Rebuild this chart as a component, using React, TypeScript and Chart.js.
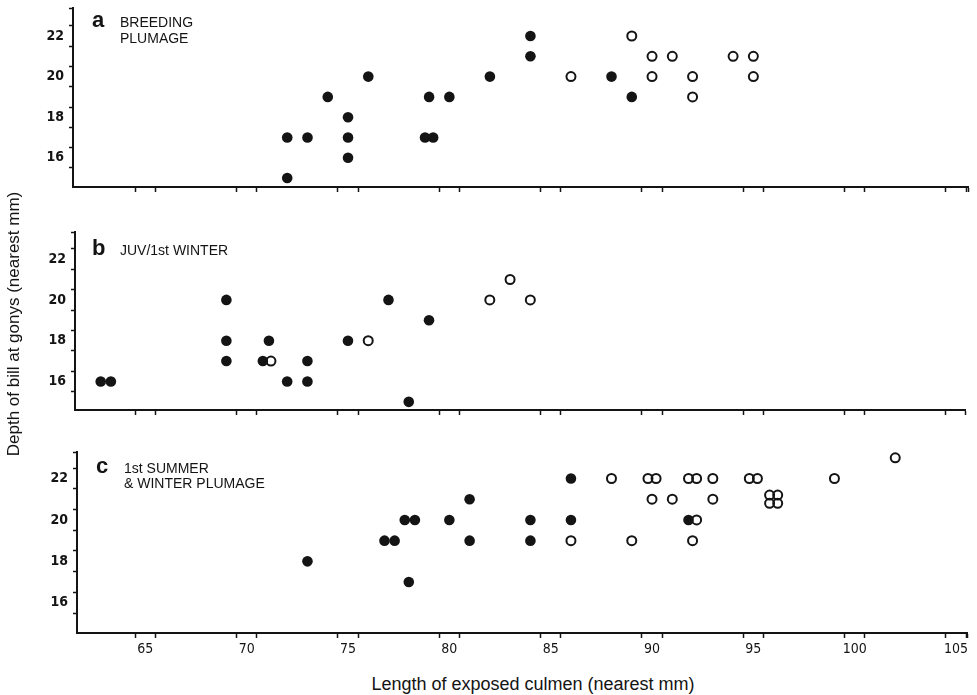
import React, { useEffect, useRef } from 'react';
import { Chart, registerables } from 'chart.js';

Chart.register(...registerables);

// ---------- data ----------
// Panel a: breeding plumage
const aFilledX = [72, 72, 73, 74, 75, 75, 75, 76, 78.8, 79.2, 79, 80, 82, 84, 84, 88, 89];
const aFilledY = [17, 15, 17, 19, 18, 17, 16, 20, 17, 17, 19, 19, 20, 22, 21, 20, 19];
const aOpenX = [86, 89, 90, 90, 91, 92, 92, 94, 95, 95];
const aOpenY = [20, 22, 21, 20, 21, 20, 19, 21, 21, 20];

// Panel b: juv / 1st winter
const bFilledX = [62.8, 63.3, 69, 69, 69, 70.8, 71.1, 72, 73, 73, 75, 77, 78, 79];
const bFilledY = [16, 16, 20, 18, 17, 17, 18, 16, 17, 16, 18, 20, 15, 19];
const bOpenX = [71.2, 76, 82, 83, 84];
const bOpenY = [17, 18, 20, 21, 20];

// Panel c: 1st summer & winter plumage
const cFilledX = [73, 76.8, 77.3, 77.8, 78.3, 78, 80, 81, 81, 84, 84, 86, 86, 91.8];
const cFilledY = [18, 19, 19, 20, 20, 17, 20, 21, 19, 20, 19, 22, 20, 20];
const cOpenX = [86, 88, 89, 89.8, 90.2, 90, 91, 91.8, 92.2, 92, 92.2, 93, 93, 94.8, 95.2, 95.8, 96.2, 95.8, 96.2, 99, 102];
const cOpenY = [19, 22, 19, 22, 22, 21, 21, 22, 22, 19, 20, 22, 21, 22, 22, 21.2, 21.2, 20.8, 20.8, 22, 23];

// tick labels
const xTickLabels = [65, 70, 75, 80, 85, 90, 95, 100, 105];
const yTickLabels = [16, 18, 20, 22];

const xTitle = 'Length of exposed culmen (nearest mm)';
const yTitle = 'Depth of bill at gonys (nearest mm)';

// ---------- styling ----------
const INK = '#141414';
const SANS = "'Liberation Sans', Arial, Helvetica, sans-serif";
const NARROW = "'Liberation Sans Narrow', 'DejaVu Sans Condensed', 'Liberation Sans', Arial, sans-serif";

function buildTicks(labels: number[], min: number, max: number) {
  const vals: number[] = [];
  labels.forEach((v) => vals.push(v - 0.5, v, v + 0.5));
  vals.push(max);
  return vals
    .filter((v) => v >= min && v <= max)
    .sort((a, b) => a - b)
    .map((v) => ({ value: v }));
}

const panelTextPlugin = {
  id: 'panelText',
  afterDraw(chart: any, _args: any, opts: any) {
    const ctx = chart.ctx;
    ctx.save();
    ctx.fillStyle = INK;
    ctx.textAlign = 'left';
    ctx.textBaseline = 'alphabetic';
    ctx.font = `bold 22px ${SANS}`;
    ctx.fillText(opts.letter, opts.letterX, opts.baseY);
    ctx.font = `14px ${SANS}`;
    (opts.lines as string[]).forEach((l, i) => {
      ctx.fillText(l, opts.textX, opts.baseY + i * opts.lineGap);
    });
    ctx.restore();
  },
};

type PanelSpec = {
  top: number;
  height: number;
  yAxisWidth: number;
  padTop: number;
  padRight: number;
  xAxisHeight: number;
  xMin: number;
  xMax: number;
  yMin: number;
  yMax: number;
  showXLabels: boolean;
  filledX: number[];
  filledY: number[];
  openX: number[];
  openY: number[];
  letter: string;
  lines: string[];
  letterX: number;
  textX: number;
  baseY: number;
  lineGap: number;
};

const panels: PanelSpec[] = [
  {
    top: 0, height: 200, yAxisWidth: 73, padTop: 8, padRight: 9, xAxisHeight: 13,
    xMin: 61.43, xMax: 105.59, yMin: 14.56, yMax: 23.38, showXLabels: false,
    filledX: aFilledX, filledY: aFilledY, openX: aOpenX, openY: aOpenY,
    letter: 'a', lines: ['BREEDING', 'PLUMAGE'], letterX: 92, textX: 120, baseY: 27, lineGap: 16,
  },
  {
    top: 220, height: 203, yAxisWidth: 75, padTop: 12, padRight: 12, xAxisHeight: 13,
    xMin: 61.53, xMax: 105.45, yMin: 14.6, yMax: 23.33, showXLabels: false,
    filledX: bFilledX, filledY: bFilledY, openX: bOpenX, openY: bOpenY,
    letter: 'b', lines: ['JUV/1st WINTER'], letterX: 92, textX: 120, baseY: 35, lineGap: 15,
  },
  {
    top: 440, height: 215, yAxisWidth: 77, padTop: 12, padRight: 10, xAxisHeight: 22,
    xMin: 61.63, xMax: 105.54, yMin: 14.54, yMax: 23.28, showXLabels: true,
    filledX: cFilledX, filledY: cFilledY, openX: cOpenX, openY: cOpenY,
    letter: 'c', lines: ['1st SUMMER', '& WINTER PLUMAGE'], letterX: 96, textX: 124, baseY: 33, lineGap: 15,
  },
];

function Panel({ spec }: { spec: PanelSpec }) {
  const ref = useRef<HTMLCanvasElement>(null);
  useEffect(() => {
    if (!ref.current) return;
    const xTicks = buildTicks(xTickLabels, spec.xMin, spec.xMax);
    const yTicks = buildTicks(yTickLabels, spec.yMin, spec.yMax);
    const chart = new Chart(ref.current, {
      type: 'scatter',
      data: {
        datasets: [
          {
            label: 'filled',
            data: spec.filledX.map((x, i) => ({ x, y: spec.filledY[i] })),
            pointRadius: 5.3,
            pointBackgroundColor: INK,
            pointBorderColor: INK,
            pointBorderWidth: 0,
          },
          {
            label: 'open',
            data: spec.openX.map((x, i) => ({ x, y: spec.openY[i] })),
            pointRadius: 4.5,
            pointBackgroundColor: 'rgba(255,255,255,0)',
            pointBorderColor: INK,
            pointBorderWidth: 2,
          },
        ],
      },
      options: {
        responsive: false,
        animation: false,
        events: [],
        layout: { padding: { left: 0, right: spec.padRight, top: spec.padTop, bottom: 0 } },
        plugins: {
          legend: { display: false },
          tooltip: { enabled: false },
          // @ts-ignore
          panelText: {
            letter: spec.letter,
            lines: spec.lines,
            letterX: spec.letterX,
            textX: spec.textX,
            baseY: spec.baseY,
            lineGap: spec.lineGap,
          },
        },
        scales: {
          x: {
            type: 'linear',
            min: spec.xMin,
            max: spec.xMax,
            bounds: 'data',
            border: { display: true, color: INK, width: 2 },
            grid: {
              display: true,
              drawOnChartArea: false,
              drawTicks: true,
              tickLength: 5,
              tickWidth: 1.5,
              tickColor: (ctx: any) =>
                ctx.tick && xTickLabels.includes(ctx.tick.value) ? 'rgba(0,0,0,0)' : INK,
            },
            ticks: {
              display: spec.showXLabels,
              autoSkip: false,
              maxRotation: 0,
              padding: 3,
              color: INK,
              font: { family: NARROW, size: 14 },
              callback: (v: any) => (xTickLabels.includes(v) ? String(v) : ''),
            },
            afterBuildTicks: (s: any) => {
              s.ticks = xTicks.map((t) => ({ ...t }));
            },
            afterFit: (s: any) => {
              s.height = spec.xAxisHeight;
              s.paddingLeft = 0;
              s.paddingRight = 0;
            },
          },
          y: {
            type: 'linear',
            min: spec.yMin,
            max: spec.yMax,
            bounds: 'data',
            border: { display: true, color: INK, width: 2 },
            grid: {
              display: true,
              drawOnChartArea: false,
              drawTicks: true,
              tickLength: 4,
              tickWidth: 1.5,
              tickColor: (ctx: any) =>
                ctx.tick && yTickLabels.includes(ctx.tick.value) ? 'rgba(0,0,0,0)' : INK,
            },
            ticks: {
              autoSkip: false,
              padding: 5,
              color: INK,
              font: { family: NARROW, size: 14, weight: 'bold' },
              callback: (v: any) => (yTickLabels.includes(v) ? String(v) : ''),
            },
            afterBuildTicks: (s: any) => {
              s.ticks = yTicks.map((t) => ({ ...t }));
            },
            afterFit: (s: any) => {
              s.width = spec.yAxisWidth;
              s.paddingTop = 0;
              s.paddingBottom = 0;
            },
          },
        },
      } as any,
      plugins: [panelTextPlugin],
    });
    return () => chart.destroy();
  }, []);
  return (
    <canvas
      ref={ref}
      width={977}
      height={spec.height}
      style={{ position: 'absolute', left: 0, top: spec.top, width: 977, height: spec.height }}
    />
  );
}

export default function App() {
  return (
    <div
      style={{
        position: 'fixed',
        left: 0,
        top: 0,
        width: 977,
        height: 695,
        background: '#ffffff',
        overflow: 'hidden',
      }}
    >
      {panels.map((p, i) => (
        <Panel key={i} spec={p} />
      ))}
      <div
        style={{
          position: 'absolute',
          left: 283,
          top: 674,
          width: 500,
          textAlign: 'center',
          fontFamily: SANS,
          fontSize: 18,
          lineHeight: '20px',
          color: INK,
        }}
      >
        {xTitle}
      </div>
      <div
        style={{
          position: 'absolute',
          left: 14 - 200,
          top: 324 - 10,
          width: 400,
          height: 20,
          lineHeight: '20px',
          textAlign: 'center',
          fontFamily: SANS,
          fontSize: 17,
          color: INK,
          transform: 'rotate(-90deg)',
          transformOrigin: '50% 50%',
        }}
      >
        {yTitle}
      </div>
    </div>
  );
}
